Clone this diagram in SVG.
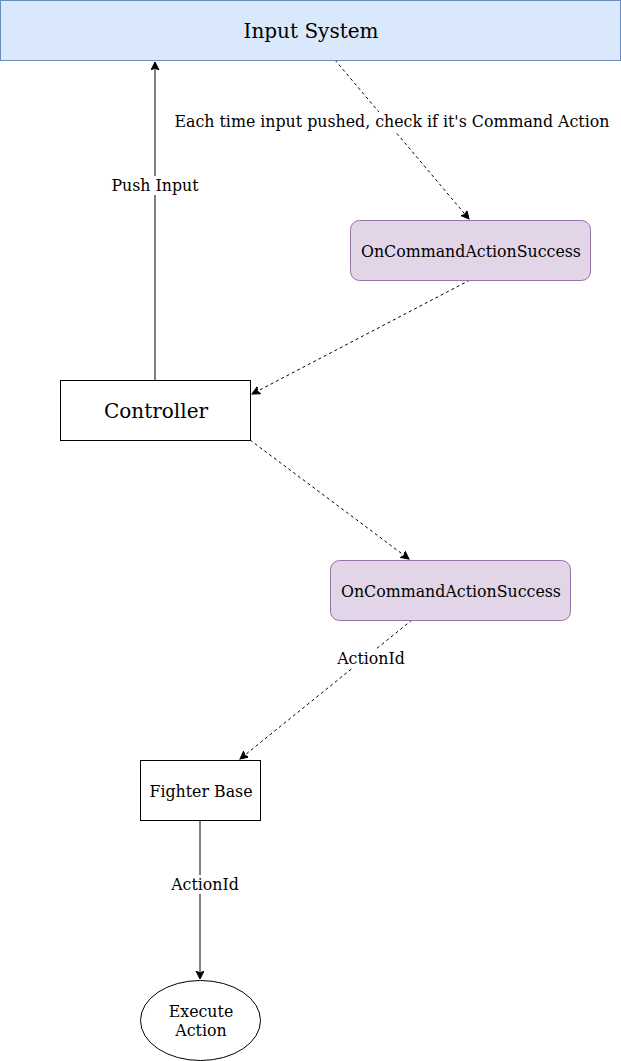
<svg xmlns="http://www.w3.org/2000/svg" width="621" height="1061" viewBox="0 0 621 1061">
<style>
text{font-family:"DejaVu Serif",serif;fill:#000;text-anchor:middle;dominant-baseline:central}
.t15{font-size:15.8px}
.t19{font-size:20px}
.edge{fill:none;stroke:#000;stroke-width:1}
.dash{stroke-dasharray:3 3}
.lbl{fill:#fff}
</style>
<defs>
<marker id="arr" markerWidth="10" markerHeight="10" refX="8" refY="4" orient="auto" markerUnits="userSpaceOnUse">
<path d="M0,0 L8,4 L0,8 L2,4 Z" fill="#000" stroke="#000" stroke-width="1"/>
</marker>
</defs>
<rect width="621" height="1061" fill="#fff"/>
<g id="connectors">
<line class="edge" x1="155" y1="380" x2="155" y2="62" marker-end="url(#arr)"/>
<rect class="lbl" x="110" y="176" width="90" height="19"/>
<text class="t15" x="155" y="185">Push Input</text>
<line class="edge dash" x1="335" y1="60" x2="469" y2="219" marker-end="url(#arr)"/>
<rect class="lbl" x="174" y="112" width="436" height="19"/>
<text class="t15" x="392" y="121">Each time input pushed, check if it's Command Action</text>
<line class="edge dash" x1="470" y1="280" x2="252" y2="394" marker-end="url(#arr)"/>
<line class="edge dash" x1="250" y1="440" x2="409" y2="559" marker-end="url(#arr)"/>
<line class="edge dash" x1="412" y1="620" x2="240" y2="759" marker-end="url(#arr)"/>
<rect class="lbl" x="335" y="649" width="72" height="19"/>
<text class="t15" x="371" y="658">ActionId</text>
<line class="edge" x1="200" y1="820" x2="200" y2="979" marker-end="url(#arr)"/>
<rect class="lbl" x="169" y="875" width="73" height="19"/>
<text class="t15" x="205" y="884">ActionId</text>
</g>
<g id="input-system">
<rect x="0.5" y="0.5" width="620" height="60" fill="#dae8fc" stroke="#6c8ebf"/>
<text class="t19" x="311" y="31">Input System</text>
</g>
<g id="on-command-1">
<rect x="350.5" y="220.5" width="240" height="60" rx="9" fill="#e1d5e7" stroke="#9673a6"/>
<text class="t15" x="471" y="251">OnCommandActionSuccess</text>
</g>
<g id="controller">
<rect x="60.5" y="380.5" width="190" height="60" fill="#fff" stroke="#000"/>
<text class="t19" x="156" y="411">Controller</text>
</g>
<g id="on-command-2">
<rect x="330.5" y="560.5" width="240" height="60" rx="9" fill="#e1d5e7" stroke="#9673a6"/>
<text class="t15" x="451" y="591">OnCommandActionSuccess</text>
</g>
<g id="fighter-base">
<rect x="140.5" y="760.5" width="120" height="60" fill="#fff" stroke="#000"/>
<text class="t15" x="201" y="791">Fighter Base</text>
</g>
<g id="execute-action">
<ellipse cx="200.5" cy="1020.5" rx="60" ry="40" fill="#fff" stroke="#000"/>
<text class="t15" x="201" y="1011">Execute</text>
<text class="t15" x="201" y="1030">Action</text>
</g>
</svg>
